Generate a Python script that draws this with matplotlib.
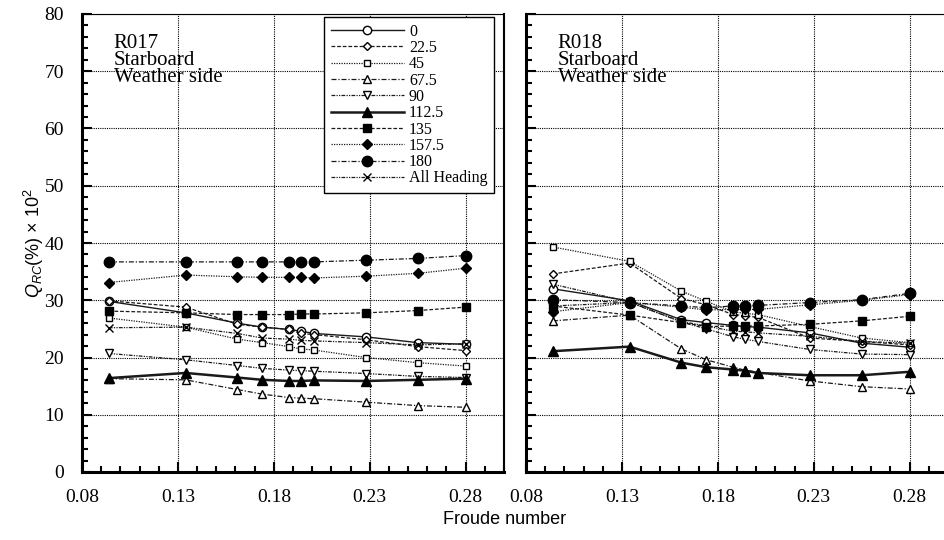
import matplotlib
matplotlib.use("Agg")
import matplotlib.pyplot as plt
from matplotlib.ticker import MultipleLocator

# Froude numbers (same for both panels)
FN = [0.094, 0.134, 0.161, 0.174, 0.188, 0.194, 0.201, 0.228, 0.255, 0.280]

HEADINGS = ["0", "22.5", "45", "67.5", "90", "112.5", "135", "157.5", "180", "All Heading"]

# R017 starboard weather side, Q_RC(%) x 10^2
R017 = {
    "0":           [29.8, 27.8, 26.0, 25.3, 24.9, 24.6, 24.2, 23.6, 22.6, 22.3],
    "22.5":        [29.9, 28.8, 25.8, 25.3, 24.9, 24.2, 24.0, 23.1, 21.9, 21.2],
    "45":          [26.9, 25.3, 23.2, 22.6, 21.9, 21.5, 21.3, 20.0, 19.1, 18.5],
    "67.5":        [16.3, 16.1, 14.4, 13.6, 13.0, 12.9, 12.8, 12.2, 11.6, 11.3],
    "90":          [20.7, 19.6, 18.6, 18.1, 17.8, 17.7, 17.6, 17.2, 16.7, 16.5],
    "112.5":       [16.4, 17.3, 16.5, 16.1, 15.9, 15.9, 16.0, 15.9, 16.1, 16.3],
    "135":         [28.1, 27.8, 27.5, 27.5, 27.5, 27.6, 27.6, 27.8, 28.2, 28.8],
    "157.5":       [33.1, 34.4, 34.1, 34.0, 34.0, 34.0, 33.9, 34.2, 34.7, 35.6],
    "180":         [36.7, 36.7, 36.7, 36.7, 36.7, 36.7, 36.7, 37.0, 37.3, 37.8],
    "All Heading": [25.2, 25.3, 24.2, 23.4, 23.2, 23.0, 22.9, 22.6, 22.2, 22.4],
}

# R018 starboard weather side
R018 = {
    "0":           [32.0, 29.9, 26.6, 26.1, 25.6, 25.4, 25.3, 24.3, 22.5, 21.8],
    "22.5":        [34.6, 36.5, 30.3, 29.2, 27.5, 27.3, 27.0, 23.4, 22.8, 22.2],
    "45":          [39.3, 36.8, 31.6, 29.8, 28.0, 27.7, 27.5, 25.4, 23.4, 22.6],
    "67.5":        [26.4, 27.4, 21.5, 19.6, 18.3, 17.8, 17.4, 15.9, 14.9, 14.5],
    "90":          [32.8, 29.7, 26.2, 25.0, 23.6, 23.2, 22.8, 21.4, 20.6, 20.5],
    "112.5":       [21.1, 21.9, 19.1, 18.3, 17.9, 17.7, 17.3, 16.9, 16.9, 17.5],
    "135":         [29.0, 27.4, 26.1, 25.4, 25.5, 25.5, 25.5, 25.8, 26.4, 27.2],
    "157.5":       [28.0, 29.6, 28.8, 28.3, 28.4, 28.4, 28.4, 29.2, 30.0, 31.0],
    "180":         [30.1, 29.6, 29.0, 28.7, 29.0, 29.0, 29.1, 29.6, 30.1, 31.2],
    "All Heading": [29.0, 29.6, 26.3, 25.5, 24.6, 24.5, 24.3, 23.7, 22.8, 22.5],
}

# marker, filled, size, line width, dash pattern
STYLES = {
    "0":           ("o", False, 6.0, 1.0, "-"),
    "22.5":        ("D", False, 4.5, 0.9, (0, (3, 1.5))),
    "45":          ("s", False, 5.0, 0.9, (0, (1, 1))),
    "67.5":        ("^", False, 6.0, 0.9, (0, (4, 1.5, 1, 1.5))),
    "90":          ("v", False, 6.0, 0.9, (0, (3, 1, 1, 1, 1, 1))),
    "112.5":       ("^", True, 6.5, 1.8, "-"),
    "135":         ("s", True, 5.5, 0.9, (0, (3, 1.5))),
    "157.5":       ("D", True, 5.5, 0.9, (0, (1, 1))),
    "180":         ("o", True, 7.5, 0.9, (0, (4, 1.5, 1, 1.5))),
    "All Heading": ("x", False, 6.0, 0.9, (0, (3, 1, 1, 1, 1, 1))),
}

SERIF = "Liberation Serif"
SANS = "Liberation Sans"
plt.rcParams["mathtext.fontset"] = "custom"
plt.rcParams["mathtext.rm"] = SANS
plt.rcParams["mathtext.it"] = SANS + ":italic"


def draw_panel(ax, data, title, show_ylabels):
    for h in HEADINGS:
        mk, filled, ms, lw, ls = STYLES[h]
        ax.plot(FN, data[h], color="#1a1a1a", linestyle=ls, linewidth=lw,
                marker=mk, markersize=ms,
                markerfacecolor="black" if filled else "white",
                markeredgecolor="black", markeredgewidth=1.0, label=h)
    ax.set_xlim(0.08, 0.30)
    ax.set_ylim(0, 80)
    ax.xaxis.set_major_locator(MultipleLocator(0.05))
    ax.xaxis.set_minor_locator(MultipleLocator(0.01))
    ax.yaxis.set_major_locator(MultipleLocator(10))
    ax.yaxis.set_minor_locator(MultipleLocator(2))
    ax.set_xticks([0.08, 0.13, 0.18, 0.23, 0.28])
    ax.set_xticklabels(["0.08", "0.13", "0.18", "0.23", "0.28"], family=SERIF, fontsize=14)
    ax.tick_params(which="both", direction="in", top=False, right=False, width=1.5)
    ax.tick_params(which="major", length=7)
    ax.tick_params(which="minor", length=4)
    ax.tick_params(axis="x", pad=12)
    ax.tick_params(axis="y", pad=13)
    if show_ylabels:
        ax.set_yticks(range(0, 81, 10))
        ax.set_yticklabels([str(v) for v in range(0, 81, 10)], family=SERIF, fontsize=14)
    else:
        ax.tick_params(axis="y", labelleft=False)
    ax.grid(True, which="major", color="black", linestyle=(0, (1, 1)), linewidth=0.8)
    for side in ("left", "bottom"):
        ax.spines[side].set_linewidth(2.2)
    ax.spines["right"].set_linewidth(1.5)
    ax.spines["top"].set_linewidth(0.8)
    ax.spines["top"].set_linestyle((0, (1, 1)))
    ax.text(0.08 + 0.0165, 76.5, title, family=SERIF, fontsize=15, va="top",
            linespacing=0.85)


fig = plt.figure(figsize=(9.44, 5.40), dpi=100)
ax1 = fig.add_axes([82 / 944, 68 / 540, 422 / 944, 458 / 540])
ax2 = fig.add_axes([526 / 944, 68 / 540, 422 / 944, 458 / 540])

draw_panel(ax1, R017, "R017\nStarboard\nWeather side", True)
draw_panel(ax2, R018, "R018\nStarboard\nWeather side", False)

leg = ax1.legend(loc="upper right", bbox_to_anchor=(0.976, 0.993), prop={"family": SERIF, "size": 11.5},
                 frameon=True, fancybox=False, edgecolor="black", framealpha=1,
                 labelspacing=0.02, handlelength=4.6, handletextpad=0.3,
                 borderpad=0.4, borderaxespad=0)
leg.get_frame().set_linewidth(1.0)

fig.text(34 / 944, 1 - 243 / 540, r"$\mathit{Q}_{RC}$(%) × 10$^{2}$", family=SANS, fontsize=13,
         rotation=90, ha="center", va="center")
fig.text(505 / 944, 1 - 520 / 540, "Froude number", family=SANS, fontsize=13,
         ha="center", va="center")

fig.savefig("out.png", dpi=100)
